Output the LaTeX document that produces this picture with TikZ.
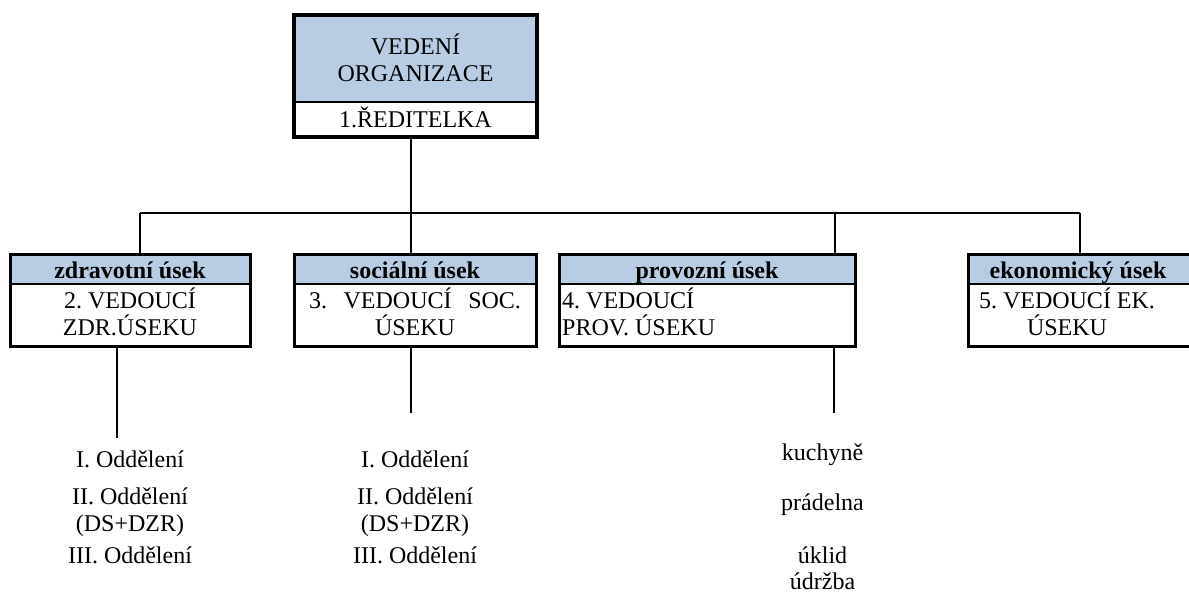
\documentclass[tikz,border=0pt]{standalone}
\usepackage{fontspec}
\setmainfont{Liberation Serif}
\definecolor{hdrblue}{RGB}{184,204,228}
\newcommand\fsz{\fontsize{24}{27}\selectfont\frenchspacing}
\begin{document}
\begin{tikzpicture}[x=1pt,y=-1pt,
  fillhdr/.style={fill=hdrblue, draw=none, inner sep=0, outer sep=0},
  fillbody/.style={fill=white, draw=none, inner sep=0, outer sep=0},
  frame/.style={line width=3pt},
  topframe/.style={line width=3.5pt},
  divider/.style={line width=2pt},
  conn/.style={line width=2pt},
  txt/.style={anchor=base, inner sep=0, font=\fsz},
  btxt/.style={anchor=base, inner sep=0, font=\fsz\bfseries},
]
\useasboundingbox (0,0) rectangle (1189,599);
\clip (0,0) rectangle (1189,599);

% top box
\node[fillhdr, minimum width=243pt, minimum height=87pt] (toph) at (415.5,58.5) {};
\node[fillbody, minimum width=243pt, minimum height=35pt] (topb) at (415.5,119.5) {};

% row boxes
\node[fillhdr, minimum width=240pt, minimum height=30pt] (h1) at (130,269) {};
\node[fillbody, minimum width=240pt, minimum height=62pt] (b1) at (130,315) {};
\node[fillhdr, minimum width=242pt, minimum height=30pt] (h2) at (415,269) {};
\node[fillbody, minimum width=242pt, minimum height=62pt] (b2) at (415,315) {};
\node[fillhdr, minimum width=296pt, minimum height=30pt] (h3) at (707,269) {};
\node[fillbody, minimum width=296pt, minimum height=62pt] (b3) at (707,315) {};
\node[fillhdr, minimum width=232pt, minimum height=30pt] (h4) at (1084,269) {};
\node[fillbody, minimum width=232pt, minimum height=62pt] (b4) at (1084,315) {};

% junction coordinates
\coordinate (j1) at (140,213);
\coordinate (j2) at (411,213);
\coordinate (j3) at (835,213);
\coordinate (j4) at (1080,213);
\coordinate (e1) at (117,438);
\coordinate (e2) at (411,413);
\coordinate (e3) at (834,413);

% connectors
\draw[conn] (j2 |- topb.south) -- (j2);
\draw[conn] (j1) -- (j4);
\draw[conn] (j1) -- (j1 |- h1.north);
\draw[conn] (j2) -- (j2 |- h2.north);
\draw[conn] (j3) -- (j3 |- h3.north);
\draw[conn] (j4) -- (j4 |- h4.north);
\draw[conn] (e1 |- b1.south) -- (e1);
\draw[conn] (e2 |- b2.south) -- (e2);
\draw[conn] (e3 |- b3.south) -- (e3);

% frames and dividers
\draw[topframe] (toph.north west) rectangle (topb.south east);
\draw[divider] (toph.south west) -- (toph.south east);
\foreach \i in {1,2,3,4}{
  \draw[frame] (h\i.north west) rectangle (b\i.south east);
  \draw[divider] (h\i.south west) -- (h\i.south east);
}

% top texts
\node[txt] (t1) at (415.5,55) {VEDENÍ};
\node[txt] (t2) at (415.5,82) {ORGANIZACE};
\node[txt] (t3) at (415.5,128) {1.ŘEDITELKA};

% header texts
\node[btxt] (ht1) at (130,278) {zdravotní úsek};
\node[btxt] (ht2) at (415,278) {sociální úsek};
\node[btxt] (ht3) at (707,278) {provozní úsek};
\node[btxt] (ht4) at (1078,278) {ekonomický úsek};

% body texts
\node[txt] (bt1a) at (130,308) {2. VEDOUCÍ};
\node[txt] (bt1b) at (130,335) {ZDR.ÚSEKU};
\node[txt] (bt2a) at (415,308) {\makebox[212pt][s]{3. VEDOUCÍ SOC.}};
\node[txt] (bt2b) at (415,335) {ÚSEKU};
\node[txt, anchor=base west] (bt3a) at (562,308) {4. VEDOUCÍ};
\node[txt, anchor=base west] (bt3b) at (562,335) {PROV. ÚSEKU};
\node[txt] (bt4a) at (1067,308) {5. VEDOUCÍ EK.};
\node[txt] (bt4b) at (1067,335) {ÚSEKU};

% sub texts
\node[txt] (s1a) at (130,467) {I. Oddělení};
\node[txt] (s1b) at (130,504) {II. Oddělení};
\node[txt] (s1c) at (130,531) {(DS+DZR)};
\node[txt] (s1d) at (130,563) {III. Oddělení};
\node[txt] (s2a) at (415,467) {I. Oddělení};
\node[txt] (s2b) at (415,504) {II. Oddělení};
\node[txt] (s2c) at (415,531) {(DS+DZR)};
\node[txt] (s2d) at (415,563) {III. Oddělení};
\node[txt] (s3a) at (822.5,460) {kuchyně};
\node[txt] (s3b) at (822.5,510) {prádelna};
\node[txt] (s3c) at (822.5,563) {úklid};
\node[txt] (s3d) at (822.5,589) {údržba};
\end{tikzpicture}
\end{document}
